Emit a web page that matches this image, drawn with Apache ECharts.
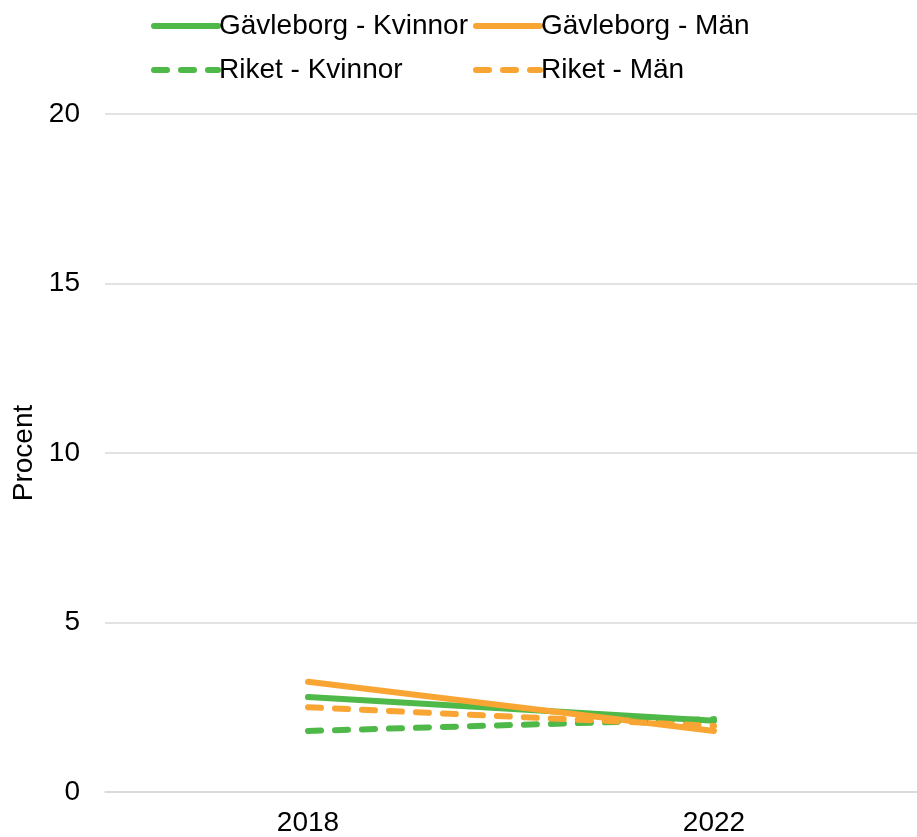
<!DOCTYPE html>
<html><head><meta charset="utf-8">
<script src="https://cdn.jsdelivr.net/npm/echarts@6/dist/echarts.min.js"></script>
<style>html,body{margin:0;padding:0;background:#fff}#c{width:917px;height:837px}</style>
</head><body><div id="c"></div>
<script>
const categories = ['2018', '2022'];
const gavleborgKvinnor = [2.8, 2.1];
const gavleborgMan = [3.25, 1.8];
const riketKvinnor = [1.8, 2.15];
const riketMan = [2.5, 1.95];
const yTicks = [0, 5, 10, 15, 20];

const green = '#4EB848', orange = '#F9A533';
const font = 'Liberation Sans, Arial, sans-serif';
const dash = [13, 14];
function s(name, data, color, dashed) {
  return {name, type: 'line', data, symbol: 'none', smooth: false,
    lineStyle: {color, width: 6, type: dashed ? dash : 'solid', cap: 'round'},
    itemStyle: {color}};
}
const legendBase = {orient: 'vertical', top: 7, itemGap: 16, itemWidth: 64, itemHeight: 6,
  lineStyle: {width: 6, cap: 'round'},
  textStyle: {fontFamily: font, fontSize: 28, color: '#000', padding: [0,0,0,-4]}};
const chart = echarts.init(document.getElementById('c'));
chart.setOption({
  animation: false,
  grid: {left: 105, right: 0, top: 114, bottom: 45, containLabel: false},
  legend: [
    Object.assign({}, legendBase, {left: 146, data: ['Gävleborg - Kvinnor', 'Riket - Kvinnor']}),
    Object.assign({}, legendBase, {left: 468, data: ['Gävleborg - Män', 'Riket - Män']})
  ],
  xAxis: {type: 'category', data: categories, boundaryGap: true,
    axisLine: {show: true, lineStyle: {color: '#d9d9d9', width: 1.5}},
    axisTick: {show: false},
    axisLabel: {fontFamily: font, fontSize: 28, color: '#000', margin: 17}},
  yAxis: {type: 'value', min: yTicks[0], max: yTicks[yTicks.length-1], interval: 5,
    name: 'Procent', nameLocation: 'middle', nameGap: 60, nameRotate: 90,
    nameTextStyle: {fontFamily: font, fontSize: 28, color: '#000'},
    axisLine: {show: false}, axisTick: {show: false},
    axisLabel: {fontFamily: font, fontSize: 28, color: '#000', margin: 25},
    splitLine: {lineStyle: {color: '#d9d9d9', width: 1.5}}},
  series: [
    s('Gävleborg - Kvinnor', gavleborgKvinnor, green, false),
    s('Gävleborg - Män', gavleborgMan, orange, false),
    s('Riket - Kvinnor', riketKvinnor, green, true),
    s('Riket - Män', riketMan, orange, true)
  ]
});
</script></body></html>
